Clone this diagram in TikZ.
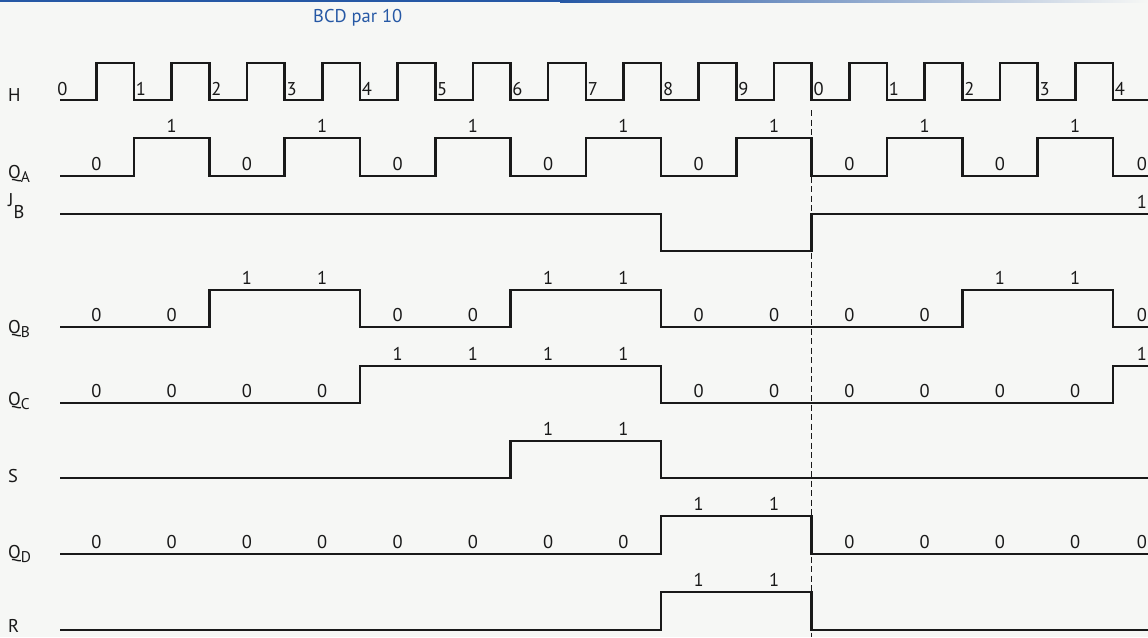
\documentclass[tikz,border=0pt]{standalone}
\usepackage{fontspec}
\setmainfont{PT Sans}
\definecolor{bg}{RGB}{246,247,245}
\definecolor{ttl}{RGB}{38,88,165}
\definecolor{ink}{RGB}{25,25,25}
\newcommand\sublbl[1]{\raisebox{-4pt}{\fontsize{15.5}{16}\selectfont #1}}
\newcommand\vals[4]{%
  \foreach \v [count=\i from 0] in {#4}{%
    \if\v-\relax\else
      \pgfmathsetmacro\xx{\i<14 ? 96.35+75.3*\i : 1142}%
      \pgfmathsetmacro\yy{\v==1 ? #3-12 : #2-12}%
      \node[lbl] (#1-\i) at (\xx,\yy) {\v};
    \fi}}
\begin{document}
\begin{tikzpicture}[x=1pt,y=-1pt,
  wave/.style={draw=ink,line width=2.6pt,line join=miter},
  lbl/.style={inner sep=0pt,font=\fontsize{18.5}{19}\selectfont,text=ink},
  rowlbl/.style={inner sep=0pt,anchor=base west,font=\fontsize{18.5}{19}\selectfont,text=ink},
  guide/.style={draw=ink,line width=1.3pt,dash pattern=on 6pt off 3.5pt}]
\useasboundingbox (0,0) rectangle (1148,637);
\fill[bg] (0,0) rectangle (1148,637);
\fill[ttl] (0,0) rectangle (560,2);
\shade[left color=ttl,right color=bg] (560,0) rectangle (1148,2);
\node[inner sep=0pt,anchor=base west,font=\fontsize{18.5}{19}\selectfont,text=ttl] (title) at (313,22.5) {BCD par 10};

% row labels
\node[rowlbl] (lH)  at (8,101.5) {H};
\node[rowlbl] (lQA) at (8,178) {Q\sublbl{A}};
\node[rowlbl] (lJB) at (8,218) {\raisebox{12pt}{J}B};
\node[rowlbl] (lQB) at (8,333) {Q\sublbl{B}};
\node[rowlbl] (lQC) at (8,405) {Q\sublbl{C}};
\node[rowlbl] (lS)  at (8,482) {S};
\node[rowlbl] (lQD) at (8,558) {Q\sublbl{D}};
\node[rowlbl] (lR)  at (8,632) {R};

\begin{scope}
\clip (0,0) rectangle (1148,637);
% clock
\draw[wave] (60,100) foreach \k in {0,...,13}{ |- ({96.35+75.3*\k},100) |- ({134+75.3*\k},63) } |- (1152,100);
% QA
\draw[wave] (60,176) -- (134,176) |- (209.3,138) |- (284.6,176) |- (359.9,138) |- (435.2,176) |- (510.5,138) |- (585.8,176) |- (661.1,138) |- (736.4,176) |- (811.7,138) |- (887,176) |- (962.3,138) |- (1037.6,176) |- (1112.9,138) |- (1152,176);
% JB
\draw[wave] (60,214) -- (661.1,214) |- (811.7,251) |- (1152,214);
% QB
\draw[wave] (60,327) -- (209.3,327) |- (359.9,290) |- (510.5,327) |- (661.1,290) |- (962.3,327) |- (1112.9,290) |- (1152,327);
% QC
\draw[wave] (60,403) -- (359.9,403) |- (661.1,366) |- (1112.9,403) |- (1152,366);
% S
\draw[wave] (60,478) -- (510.5,478) |- (661.1,441) |- (1152,478);
% QD
\draw[wave] (60,554) -- (661.1,554) |- (811.7,516) |- (1152,554);
% R
\draw[wave] (60,630) -- (661.1,630) |- (811.7,592) |- (1152,630);

% clock numbers
\node[lbl] (H-s) at (62.5,89) {0};
\foreach \t [count=\k from 0] in {1,2,3,4,5,6,7,8,9,0,1,2,3,4}{
  \node[lbl] (H-\k) at ({141+75.3*\k},89) {\t};
}
% levels
\vals{QA}{176}{138}{0,1,0,1,0,1,0,1,0,1,0,1,0,1,0}
\vals{JB}{214}{214}{-,-,-,-,-,-,-,-,-,-,-,-,-,-,1}
\vals{QB}{327}{290}{0,0,1,1,0,0,1,1,0,0,0,0,1,1,0}
\vals{QC}{403}{366}{0,0,0,0,1,1,1,1,0,0,0,0,0,0,1}
\vals{S}{478}{441}{-,-,-,-,-,-,1,1,-,-,-,-,-,-,-}
\vals{QD}{554}{516}{0,0,0,0,0,0,0,0,1,1,0,0,0,0,0}
\vals{R}{630}{592}{-,-,-,-,-,-,-,-,1,1,-,-,-,-,-}
\end{scope}

% reset guide
\coordinate (g1) at (811.7,110);
\coordinate (g2) at (811.7,637);
\draw[guide] (g1) -- (g2);
\end{tikzpicture}
\end{document}
